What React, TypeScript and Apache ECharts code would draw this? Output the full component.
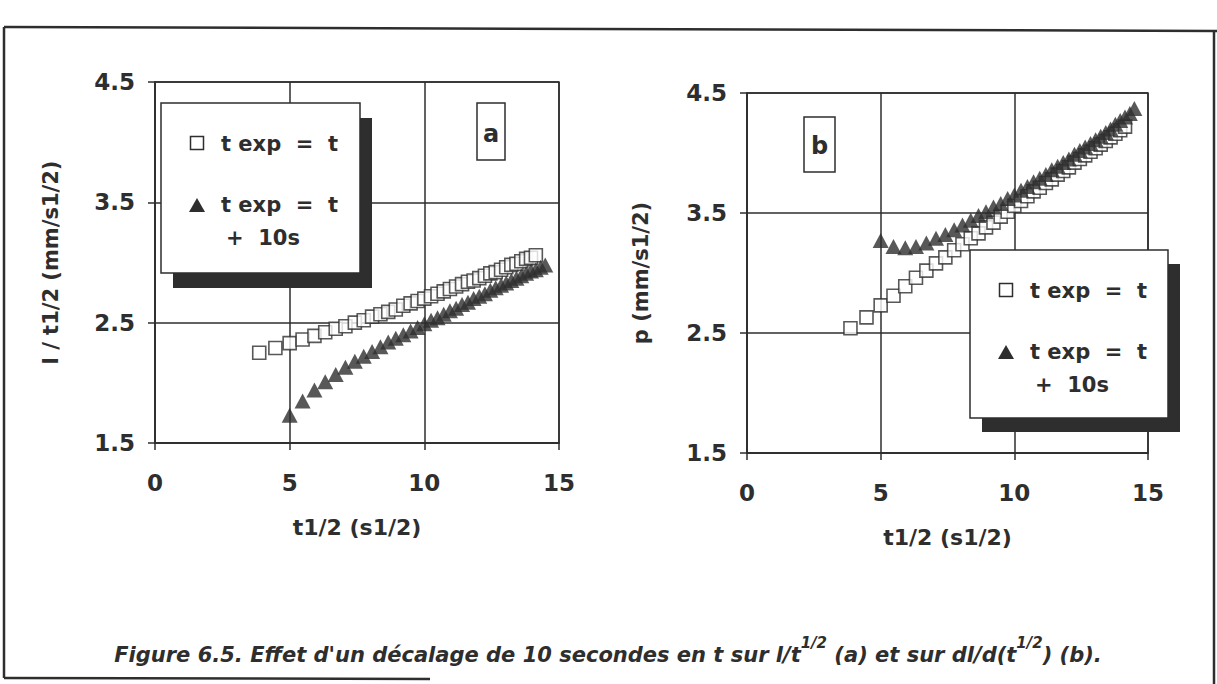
import React, { useEffect, useRef } from "react";
import * as echarts from "echarts";

// x = t^(1/2) for the "t exp = t" points, and for the "t exp = t + 10s" points
const X_SQ = [3.87, 4.47, 5.0, 5.48, 5.92, 6.32, 6.71, 7.07, 7.42, 7.75, 8.06, 8.37, 8.66, 8.94, 9.22, 9.49, 9.75, 10.0, 10.25, 10.49, 10.72, 10.95, 11.18, 11.4, 11.62, 11.83, 12.04, 12.25, 12.45, 12.65, 12.85, 13.04, 13.23, 13.42, 13.6, 13.78, 13.96, 14.14];
const X_TRI = [5.0, 5.48, 5.92, 6.32, 6.71, 7.07, 7.42, 7.75, 8.06, 8.37, 8.66, 8.94, 9.22, 9.49, 9.75, 10.0, 10.25, 10.49, 10.72, 10.95, 11.18, 11.4, 11.62, 11.83, 12.04, 12.25, 12.45, 12.65, 12.85, 13.04, 13.23, 13.42, 13.6, 13.78, 13.96, 14.14, 14.32, 14.49];

// chart (a): l / t^(1/2)
const Y_SQ_A = [2.25, 2.29, 2.33, 2.36, 2.39, 2.42, 2.45, 2.47, 2.5, 2.52, 2.55, 2.57, 2.59, 2.61, 2.64, 2.66, 2.68, 2.7, 2.72, 2.74, 2.76, 2.78, 2.8, 2.82, 2.84, 2.85, 2.87, 2.89, 2.91, 2.92, 2.94, 2.96, 2.98, 2.99, 3.01, 3.03, 3.04, 3.06];
const Y_TRI_A = [1.73, 1.85, 1.94, 2.01, 2.07, 2.13, 2.18, 2.22, 2.26, 2.3, 2.34, 2.37, 2.4, 2.43, 2.46, 2.49, 2.52, 2.54, 2.57, 2.6, 2.62, 2.65, 2.67, 2.7, 2.72, 2.74, 2.77, 2.79, 2.81, 2.83, 2.85, 2.87, 2.89, 2.91, 2.93, 2.94, 2.96, 2.98];

// chart (b): p = dl / d(t^(1/2))
const Y_SQ_B = [2.54, 2.63, 2.73, 2.81, 2.89, 2.96, 3.02, 3.08, 3.13, 3.19, 3.24, 3.29, 3.33, 3.38, 3.42, 3.47, 3.51, 3.56, 3.6, 3.64, 3.68, 3.71, 3.75, 3.78, 3.82, 3.85, 3.88, 3.92, 3.95, 3.98, 4.01, 4.04, 4.07, 4.1, 4.13, 4.16, 4.19, 4.22];
const Y_TRI_B = [3.27, 3.22, 3.21, 3.22, 3.25, 3.29, 3.32, 3.36, 3.4, 3.44, 3.48, 3.51, 3.55, 3.58, 3.62, 3.65, 3.69, 3.72, 3.76, 3.79, 3.82, 3.86, 3.89, 3.92, 3.95, 3.99, 4.02, 4.05, 4.08, 4.11, 4.14, 4.17, 4.2, 4.24, 4.27, 4.3, 4.33, 4.37];

const SERIES_NAMES = ["t exp = t", "t exp = t + 10s"];
const X_TITLE = "t1/2 (s1/2)";
const Y_TITLES = ["l / t1/2 (mm/s1/2)", "p (mm/s1/2)"];
const PANEL_LABELS = ["a", "b"];
const CAPTION_PARTS = ["Figure 6.5. Effet d'un décalage de 10 secondes en t sur l/t", "1/2", " (a) et sur dl/d(t", "1/2", ") (b)."];

const INK = "#2e2e2e";
const FONT = "'DejaVu Sans', 'Liberation Sans', Arial, sans-serif";

const zip = (xs: number[], ys: number[]) => xs.map((x, i) => [x, ys[i]]);

function xAxisCfg(gridIndex: number) {
  return {
    type: "value",
    gridIndex,
    min: 0,
    max: 15,
    interval: 5,
    name: X_TITLE,
    nameLocation: "middle",
    nameGap: 73,
    nameTextStyle: { fontSize: 22, fontWeight: "bold", color: INK, fontFamily: FONT },
    axisLine: { show: true, onZero: false, lineStyle: { color: INK, width: 1.5 } },
    axisTick: { show: true, length: 7, lineStyle: { color: INK, width: 1.5 } },
    axisLabel: { fontSize: 23, fontWeight: "bold", color: INK, fontFamily: FONT, margin: 28 },
    splitLine: { show: true, lineStyle: { color: INK, width: 1.5 } },
  };
}

function yAxisCfg(gridIndex: number, name: string, gap: number) {
  return {
    type: "value",
    gridIndex,
    min: 1.5,
    max: 4.5,
    interval: 1,
    name,
    nameLocation: "middle",
    nameGap: gap,
    nameTextStyle: { fontSize: 21, fontWeight: "bold", color: INK, fontFamily: FONT },
    axisLine: { show: true, onZero: false, lineStyle: { color: INK, width: 1.5 } },
    axisTick: { show: true, length: 7, lineStyle: { color: INK, width: 1.5 } },
    axisLabel: {
      fontSize: 23,
      fontWeight: "bold",
      color: INK,
      fontFamily: FONT,
      margin: 20,
      formatter: (v: number) => v.toFixed(1),
    },
    splitLine: { show: true, lineStyle: { color: INK, width: 1.5 } },
  };
}

function legendBox(x: number, y: number, w: number, h: number, sx: number, sy: number) {
  const txt = (text: string, tx: number, ty: number, align: string) => ({
    type: "text",
    x: tx,
    y: ty,
    z: 103,
    style: {
      text,
      fill: INK,
      fontSize: 21,
      fontWeight: "bold",
      fontFamily: FONT,
      align,
      verticalAlign: "middle",
    },
  });
  const ix = x + 36;
  const tx = x + 60;
  return [
    { type: "rect", z: 100, shape: { x: x + sx, y: y + sy, width: w, height: h }, style: { fill: INK } },
    { type: "rect", z: 101, shape: { x, y, width: w, height: h }, style: { fill: "#fff", stroke: INK, lineWidth: 1.5 } },
    { type: "rect", z: 102, shape: { x: ix - 6.5, y: y + 33.5, width: 13, height: 13 }, style: { fill: "#fff", stroke: INK, lineWidth: 1.5 } },
    txt("t exp  =  t", tx, y + 41, "left"),
    {
      type: "polygon",
      z: 102,
      shape: { points: [[ix - 8, y + 109], [ix + 8, y + 109], [ix, y + 95]] },
      style: { fill: INK },
    },
    txt("t exp  =  t", tx, y + 102, "left"),
    txt("+  10s", x + 102, y + 135, "center"),
  ];
}

function panelLabel(text: string, x: number, y: number, w: number, h: number, ty: number) {
  return [
    { type: "rect", z: 100, shape: { x, y, width: w, height: h }, style: { fill: "#fff", stroke: INK, lineWidth: 1.5 } },
    {
      type: "text",
      z: 101,
      x: x + w / 2,
      y: ty,
      style: { text, fill: INK, fontSize: 24, fontWeight: "bold", fontFamily: FONT, align: "center", verticalAlign: "middle" },
    },
  ];
}

export default function App() {
  const ref = useRef<HTMLDivElement>(null);

  useEffect(() => {
    if (!ref.current) return;
    const chart = echarts.init(ref.current, undefined, { renderer: "svg" });

    const sqStyle = { color: "#ffffff", borderColor: INK, borderWidth: 1.6 };
    const triStyle = { color: INK, borderColor: INK, borderWidth: 0 };

    chart.setOption({
      animation: false,
      backgroundColor: "#ffffff",
      textStyle: { fontFamily: FONT },
      legend: { show: false },
      grid: [
        { left: 155, top: 82, width: 404, height: 361, show: true, borderColor: INK, borderWidth: 1.5, containLabel: false },
        { left: 747, top: 93, width: 401, height: 360, show: true, borderColor: INK, borderWidth: 1.5, containLabel: false },
      ],
      xAxis: [xAxisCfg(0), xAxisCfg(1)],
      yAxis: [yAxisCfg(0, Y_TITLES[0], 94), yAxisCfg(1, Y_TITLES[1], 96)],
      series: [
        { type: "scatter", name: SERIES_NAMES[0], xAxisIndex: 0, yAxisIndex: 0, symbol: "rect", symbolSize: 13, itemStyle: sqStyle, data: zip(X_SQ, Y_SQ_A), z: 3 },
        { type: "scatter", name: SERIES_NAMES[1], xAxisIndex: 0, yAxisIndex: 0, symbol: "triangle", symbolSize: [16, 15], itemStyle: triStyle, data: zip(X_TRI, Y_TRI_A), z: 4 },
        { type: "scatter", name: SERIES_NAMES[0], xAxisIndex: 1, yAxisIndex: 1, symbol: "rect", symbolSize: 13, itemStyle: sqStyle, data: zip(X_SQ, Y_SQ_B), z: 3 },
        { type: "scatter", name: SERIES_NAMES[1], xAxisIndex: 1, yAxisIndex: 1, symbol: "triangle", symbolSize: [16, 15], itemStyle: triStyle, data: zip(X_TRI, Y_TRI_B), z: 4 },
      ],
      graphic: [
        // outer frame
        { type: "line", z: 90, shape: { x1: 4, y1: 27, x2: 1217, y2: 31 }, style: { stroke: INK, lineWidth: 2.5 } },
        { type: "line", z: 90, shape: { x1: 4, y1: 27, x2: 4, y2: 678 }, style: { stroke: INK, lineWidth: 2.5 } },
        { type: "line", z: 90, shape: { x1: 1214, y1: 31, x2: 1214, y2: 684 }, style: { stroke: INK, lineWidth: 2.5 } },
        { type: "line", z: 90, shape: { x1: 4, y1: 678, x2: 430, y2: 679 }, style: { stroke: INK, lineWidth: 2.5 } },
        ...legendBox(161, 103, 199, 170, 12, 15),
        ...legendBox(970, 250, 198, 168, 12, 14),
        ...panelLabel(PANEL_LABELS[0], 477, 103, 28, 57, 134),
        ...panelLabel(PANEL_LABELS[1], 804, 117, 31, 55, 146),
        {
          type: "text",
          z: 100,
          x: 608,
          y: 650,
          style: {
            text: `{n|${CAPTION_PARTS[0]}}{s|${CAPTION_PARTS[1]}}{n|${CAPTION_PARTS[2]}}{s|${CAPTION_PARTS[3]}}{n|${CAPTION_PARTS[4]}}`,
            align: "center",
            verticalAlign: "middle",
            fill: INK,
            rich: {
              n: { fontSize: 21, fontWeight: "bold", fontStyle: "italic", fontFamily: FONT, fill: INK, lineHeight: 30, verticalAlign: "bottom" },
              s: { fontSize: 15, fontWeight: "bold", fontStyle: "italic", fontFamily: FONT, fill: INK, lineHeight: 30, verticalAlign: "top" },
            },
          },
        },
      ],
    });

    return () => chart.dispose();
  }, []);

  return <div ref={ref} style={{ position: "absolute", left: 0, top: 0, width: 1217, height: 684 }} />;
}
